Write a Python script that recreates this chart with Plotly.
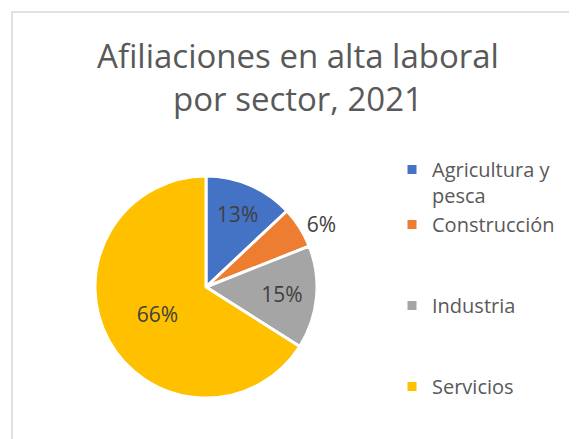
import plotly.graph_objects as go

sectors = ["Agricultura y<br>pesca", "Construcción", "Industria", "Servicios"]
shares = [13, 6, 15, 66]
colors = ["#4472C4", "#ED7D31", "#A5A5A5", "#FFC000"]
label_pos = ["inside", "outside", "inside", "inside"]

W, H = 577, 439
cx, cy, r = 198, 279, 111

# legend labels padded with blank lines for Excel-like spacing between entries
def legend_label(name):
    n = len(name.split("<br>"))
    return name + ("<br>&nbsp;" * (3 - n) if n == 1 else "")

fig = go.Figure(go.Pie(
    labels=[legend_label(s) for s in sectors],
    values=shares,
    sort=False,
    direction="clockwise",
    rotation=0,
    marker=dict(colors=colors, line=dict(color="white", width=3)),
    texttemplate="%{percent:.0%}",
    textposition=label_pos,
    insidetextorientation="horizontal",
    textfont=dict(family="Open Sans", size=21, color="#404040"),
    domain=dict(x=[(cx - r) / W, (cx + r) / W], y=[1 - (cy + r) / H, 1 - (cy - r) / H]),
    hoverinfo="percent",
))

fig.update_layout(
    width=W, height=H,
    margin=dict(l=0, r=0, t=0, b=0, autoexpand=False),
    paper_bgcolor="white",
    title=dict(text="Afiliaciones en alta laboral<br>por sector, 2021",
               x=290 / W, xanchor="center", y=1 - 60 / H, yanchor="middle",
               font=dict(family="Open Sans", size=33, color="#595959")),
    legend=dict(x=384 / W, xanchor="left", y=1 - 142 / H, yanchor="top",
                font=dict(family="Open Sans", size=20, color="#595959"),
                itemwidth=30, valign="top", traceorder="normal"),
    shapes=[dict(type="rect", xref="paper", yref="paper",
                 x0=4 / W, x1=1.2, y0=-0.2, y1=1 - 4 / H,
                 line=dict(color="#D9D9D9", width=1.5))],
)

fig.write_html("out.html")
